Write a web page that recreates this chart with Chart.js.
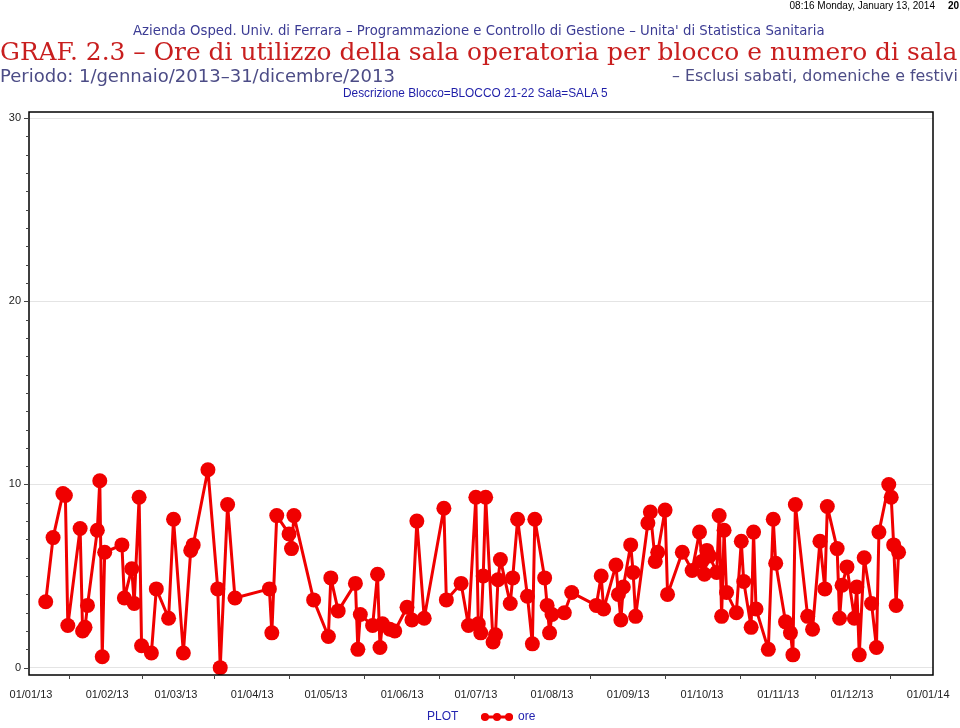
<!DOCTYPE html>
<html>
<head>
<meta charset="utf-8">
<script src="https://cdn.jsdelivr.net/npm/chart.js@4.4.1/dist/chart.umd.min.js"></script>
<style>
  body { margin: 0; width: 960px; height: 728px; overflow: hidden; background: #fff; position: relative; }
  canvas { position: absolute; left: 0; top: 0; }
  .t { position: absolute; white-space: nowrap; line-height: 1; z-index: 2; }
  #stamp { font: 10px "Liberation Sans", Arial, sans-serif; color: #000; }
  #page { font: bold 10px "Liberation Sans", Arial, sans-serif; color: #000; }
  #h1 { font-family: "DejaVu Sans", sans-serif; font-size: 13px; color: #3c3c94; }
  #h2 { font-family: "DejaVu Serif", serif; font-size: 22px; color: #c81e1e; }
  #h3a, #h3b { font-family: "DejaVu Sans", sans-serif; font-size: 16px; color: #4c4c86; }
  #h4 { font-family: "Liberation Sans", Arial, sans-serif; font-size: 12px; color: #1e1ea8; }
</style>
</head>
<body>
<div id="stamp" class="t">08:16 Monday, January 13, 2014</div>
<div id="page" class="t">20</div>
<div id="h1" class="t">Azienda Osped. Univ. di Ferrara – Programmazione e Controllo di Gestione – Unita' di Statistica Sanitaria</div>
<div id="h2" class="t">GRAF. 2.3 – Ore di utilizzo della sala operatoria per blocco e numero di sala</div>
<div id="h3a" class="t">Periodo: 1/gennaio/2013–31/dicembre/2013</div>
<div id="h3b" class="t">– Esclusi sabati, domeniche e festivi</div>
<div id="h4" class="t">Descrizione Blocco=BLOCCO 21-22 Sala=SALA 5</div>
<canvas id="chart" width="960" height="728"></canvas>
<script>
// data: working days and hours of use
const dates = [
  '2013-01-07','2013-01-10','2013-01-14','2013-01-15','2013-01-16','2013-01-21','2013-01-22','2013-01-23','2013-01-24','2013-01-28',
  '2013-01-29','2013-01-30','2013-01-31','2013-02-07','2013-02-08','2013-02-11','2013-02-12','2013-02-14','2013-02-15','2013-02-19',
  '2013-02-21','2013-02-26','2013-02-28','2013-03-04','2013-03-07','2013-03-08','2013-03-14','2013-03-18','2013-03-19','2013-03-22',
  '2013-03-25','2013-04-08','2013-04-09','2013-04-11','2013-04-16','2013-04-17','2013-04-18','2013-04-26','2013-05-02','2013-05-03',
  '2013-05-06','2013-05-13','2013-05-14','2013-05-15','2013-05-20','2013-05-22','2013-05-23','2013-05-24','2013-05-27','2013-05-29',
  '2013-06-03','2013-06-05','2013-06-07','2013-06-10','2013-06-18','2013-06-19','2013-06-25','2013-06-28','2013-07-01','2013-07-02',
  '2013-07-03','2013-07-04','2013-07-05','2013-07-08','2013-07-09','2013-07-10','2013-07-11','2013-07-15','2013-07-16','2013-07-18',
  '2013-07-22','2013-07-24','2013-07-25','2013-07-29','2013-07-30','2013-07-31','2013-08-01','2013-08-06','2013-08-09','2013-08-19',
  '2013-08-21','2013-08-22','2013-08-27','2013-08-28','2013-08-29','2013-08-30','2013-09-02','2013-09-03','2013-09-04','2013-09-09',
  '2013-09-10','2013-09-12','2013-09-13','2013-09-16','2013-09-17','2013-09-23','2013-09-27','2013-09-30','2013-10-01','2013-10-02',
  '2013-10-03','2013-10-04','2013-10-07','2013-10-08','2013-10-09','2013-10-10','2013-10-11','2013-10-15','2013-10-17','2013-10-18',
  '2013-10-21','2013-10-22','2013-10-23','2013-10-28','2013-10-30','2013-10-31','2013-11-04','2013-11-06','2013-11-07','2013-11-08',
  '2013-11-13','2013-11-15','2013-11-18','2013-11-20','2013-11-21','2013-11-25','2013-11-26','2013-11-27','2013-11-29','2013-12-02',
  '2013-12-03','2013-12-04','2013-12-06','2013-12-09','2013-12-11','2013-12-12','2013-12-16','2013-12-17','2013-12-18','2013-12-19',
  '2013-12-20'
];
const ore = [
  3.6, 7.1, 9.5, 9.4, 2.3, 7.6, 2.0, 2.2, 3.4, 7.5,
  10.2, 0.6, 6.3, 6.7, 3.8, 5.4, 3.5, 9.3, 1.2, 0.8,
  4.3, 2.7, 8.1, 0.8, 6.4, 6.7, 10.8, 4.3, 0.0, 8.9,
  3.8, 4.3, 1.9, 8.3, 7.3, 6.5, 8.3, 3.7, 1.7, 4.9,
  3.1, 4.6, 1.0, 2.9, 2.3, 5.1, 1.1, 2.4, 2.1, 2.0,
  3.3, 2.6, 8.0, 2.7, 8.7, 3.7, 4.6, 2.3, 9.3, 2.4,
  1.9, 5.0, 9.3, 1.4, 1.8, 4.8, 5.9, 3.5, 4.9, 8.1,
  3.9, 1.3, 8.1, 4.9, 3.4, 1.9, 2.9, 3.0, 4.1, 3.4,
  5.0, 3.2, 5.6, 4.0, 2.6, 4.4, 6.7, 5.2, 2.8, 7.9,
  8.5, 5.8, 6.3, 8.6, 4.0, 6.3, 5.3, 7.4, 5.8, 5.1,
  6.4, 6.1, 5.2, 8.3, 2.8, 7.5, 4.1, 3.0, 6.9, 4.7,
  2.2, 7.4, 3.2, 1.0, 8.1, 5.7, 2.5, 1.9, 0.7, 8.9,
  2.8, 2.1, 6.9, 4.3, 8.8, 6.5, 2.7, 4.5, 5.5, 2.7,
  4.4, 0.7, 6.0, 3.5, 1.1, 7.4, 10.0, 9.3, 6.7, 3.4,
  6.3
];
const monthTicks = ['2013-01-01','2013-02-01','2013-03-01','2013-04-01','2013-05-01','2013-06-01','2013-07-01',
  '2013-08-01','2013-09-01','2013-10-01','2013-11-01','2013-12-01','2014-01-01'];
const yTicks = [0, 10, 20, 30];
const seriesLabel = 'ore';

const DAY = 86400000;
const START = Date.UTC(2013, 0, 1);
function dayOf(s) {
  const p = s.split('-').map(Number);
  return (Date.UTC(p[0], p[1] - 1, p[2]) - START) / DAY;
}
function fmt(day) {
  const d = new Date(START + Math.round(day) * DAY);
  const two = n => String(n).padStart(2, '0');
  return two(d.getUTCDate()) + '/' + two(d.getUTCMonth() + 1) + '/' + two(d.getUTCFullYear() % 100);
}
const xMajor = monthTicks.map(dayOf);
const points = dates.map((s, i) => ({ x: dayOf(s), y: ore[i] }));

// header text sized to fit its box
function place(id, x0, x1, cy) {
  const el = document.getElementById(id);
  const fs = parseFloat(getComputedStyle(el).fontSize);
  const w = el.getBoundingClientRect().width;
  el.style.fontSize = (fs * (x1 - x0) / w) + 'px';
  const r = el.getBoundingClientRect();
  el.style.left = x0 + 'px';
  el.style.top = (cy - r.height / 2) + 'px';
}
place('h1', 133, 825, 31);
place('h2', 0, 958, 52);
place('h3a', 0, 395, 76);
place('h3b', 672, 958, 76);
place('h4', 343, 608, 94);
(function () {
  const s = document.getElementById('stamp');
  s.style.left = (935 - s.getBoundingClientRect().width) + 'px';
  s.style.top = '0px';
  const p = document.getElementById('page');
  p.style.left = '948px';
  p.style.top = '0px';
})();

const RED = 'rgb(240,0,0)';
const BLUE = '#2424b0';

const framePlugin = {
  id: 'frame',
  afterDraw(chart) {
    const { ctx, chartArea: a, scales } = chart;
    ctx.save();
    ctx.strokeStyle = '#000';
    ctx.lineWidth = 1.5;
    ctx.strokeRect(a.left, a.top, a.right - a.left, a.bottom - a.top);
    // minor and major ticks
    ctx.lineWidth = 1;
    ctx.strokeStyle = '#444';
    ctx.beginPath();
    for (let v = 1; v < 30; v++) {
      if (v % 10 === 0) continue;
      const y = Math.round(scales.y.getPixelForValue(v)) + 0.5;
      ctx.moveTo(a.left - 3, y); ctx.lineTo(a.left, y);
    }
    yTicks.forEach(v => {
      const y = Math.round(scales.y.getPixelForValue(v)) + 0.5;
      ctx.moveTo(a.left - 5, y); ctx.lineTo(a.left, y);
    });
    for (let i = 0; i < xMajor.length - 1; i++) {
      const x = Math.round(scales.x.getPixelForValue((xMajor[i] + xMajor[i + 1]) / 2)) + 0.5;
      ctx.moveTo(x, a.bottom); ctx.lineTo(x, a.bottom + 4);
    }
    ctx.stroke();
    // legend
    const ly = 717;
    ctx.font = '12px "Liberation Sans", Arial, sans-serif';
    ctx.fillStyle = BLUE;
    ctx.textBaseline = 'middle';
    ctx.fillText('PLOT', 427, ly);
    ctx.strokeStyle = RED;
    ctx.lineWidth = 3;
    ctx.beginPath(); ctx.moveTo(481, ly); ctx.lineTo(513, ly); ctx.stroke();
    ctx.fillStyle = RED;
    [485, 497, 509].forEach(x => { ctx.beginPath(); ctx.arc(x, ly, 4, 0, Math.PI * 2); ctx.fill(); });
    ctx.fillStyle = BLUE;
    ctx.fillText(chart.data.datasets[0].label, 518, ly);
    ctx.restore();
  }
};

new Chart(document.getElementById('chart'), {
  type: 'line',
  data: {
    datasets: [{
      label: seriesLabel,
      data: points,
      borderColor: RED,
      backgroundColor: RED,
      borderWidth: 3,
      borderJoinStyle: 'round',
      borderCapStyle: 'round',
      pointRadius: 7.5,
      pointBackgroundColor: RED,
      pointBorderColor: RED,
      pointBorderWidth: 0,
      tension: 0
    }]
  },
  options: {
    responsive: false,
    animation: false,
    devicePixelRatio: 1,
    layout: { padding: { top: 112, right: 27, bottom: 0, left: 0 } },
    plugins: { legend: { display: false }, tooltip: { enabled: false } },
    scales: {
      x: {
        type: 'linear',
        min: -0.8,
        max: 367,
        afterBuildTicks: s => { s.ticks = xMajor.map(v => ({ value: v })); },
        afterFit: s => { s.height = 53; },
        grid: { display: false, drawTicks: true, tickLength: 7, tickColor: '#444' },
        border: { display: false },
        ticks: {
          callback: v => fmt(v),
          maxRotation: 0,
          autoSkip: false,
          padding: 6,
          color: '#222',
          font: { family: '"Liberation Sans", Arial, sans-serif', size: 11 }
        }
      },
      y: {
        min: -0.4,
        max: 30.33,
        afterBuildTicks: s => { s.ticks = yTicks.map(v => ({ value: v })); },
        afterFit: s => { s.width = 29; },
        grid: { color: '#e4e4e4', lineWidth: 1, drawTicks: false },
        border: { display: false },
        ticks: {
          padding: 8,
          color: '#222',
          font: { family: '"Liberation Sans", Arial, sans-serif', size: 11 }
        }
      }
    }
  },
  plugins: [framePlugin]
});
</script>
</body>
</html>
